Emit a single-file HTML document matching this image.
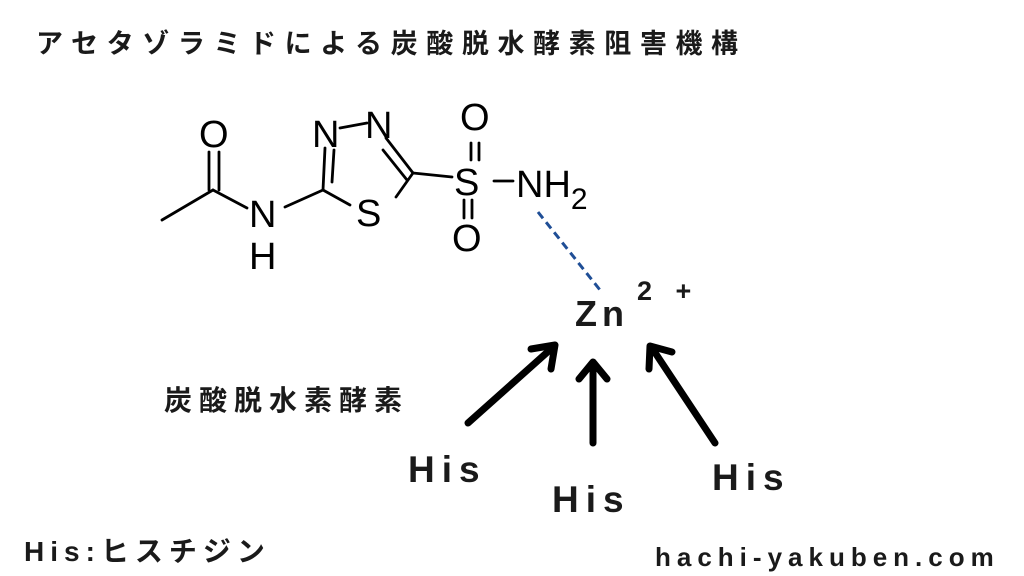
<!DOCTYPE html>
<html><head><meta charset="utf-8"><style>
html,body{margin:0;padding:0;background:#fff;width:1024px;height:576px;overflow:hidden}
svg{display:block}
.jp{font-family:"Liberation Sans","Noto Sans CJK JP",sans-serif;font-weight:bold;fill:#1a1a1a}
.mol{font-family:"Liberation Sans",sans-serif;fill:#000;font-size:38px}
</style></head><body>
<svg width="1024" height="576" viewBox="0 0 1024 576" xmlns="http://www.w3.org/2000/svg">
<text class="jp" x="36" y="53" font-size="27" letter-spacing="8.6">アセタゾラミドによる炭酸脱水酵素阻害機構</text>
<g stroke="#000" stroke-width="2.8" fill="none" stroke-linecap="round">
<line x1="162" y1="220" x2="213" y2="190"/>
<line x1="209" y1="190" x2="209" y2="152"/>
<line x1="219" y1="190" x2="219" y2="152"/>
<line x1="213" y1="190" x2="247" y2="208"/>
<line x1="285" y1="207" x2="323" y2="190"/>
<line x1="323" y1="190" x2="350" y2="205"/>
<line x1="323" y1="190" x2="325" y2="148"/>
<line x1="332" y1="182" x2="334" y2="150"/>
<line x1="340" y1="128" x2="367" y2="123"/>
<line x1="386" y1="138" x2="413" y2="173"/>
<line x1="383" y1="150" x2="407" y2="180"/>
<line x1="413" y1="173" x2="396" y2="197"/>
<line x1="413" y1="173" x2="452" y2="177"/>
<line x1="471" y1="143" x2="471" y2="160"/>
<line x1="479" y1="143" x2="479" y2="160"/>
<line x1="464" y1="200" x2="464" y2="218"/>
<line x1="472" y1="200" x2="472" y2="218"/>
<line x1="494" y1="181" x2="513" y2="181"/>
</g>
<text class="mol" x="199" y="147">O</text>
<text class="mol" x="249" y="227">N</text>
<text class="mol" x="249" y="269">H</text>
<text class="mol" x="312" y="147">N</text>
<text class="mol" x="365" y="138">N</text>
<text class="mol" x="356" y="226">S</text>
<text class="mol" x="460" y="130">O</text>
<text class="mol" x="452" y="251">O</text>
<text class="mol" x="454" y="195">S</text>
<text class="mol" x="516" y="197">NH<tspan font-size="30" dy="12">2</tspan></text>
<line x1="538" y1="212" x2="600" y2="290" stroke="#1f4e96" stroke-width="3" stroke-dasharray="8,5"/>
<text class="jp" x="575" y="326" font-size="36" letter-spacing="5">Zn</text>
<text class="jp" x="637" y="300" font-size="27" letter-spacing="8">2 +</text>
<g stroke="#000" stroke-width="7" fill="none" stroke-linecap="round" stroke-linejoin="round">
<line x1="468" y1="423" x2="552" y2="348"/>
<polyline points="531,349 555,345 551,369"/>
<line x1="593" y1="443" x2="593" y2="363"/>
<polyline points="579,379 593,362 607,379"/>
<line x1="715" y1="443" x2="652" y2="348"/>
<polyline points="649,369 650,346 672,352"/>
</g>
<text class="jp" x="408" y="482" font-size="37" letter-spacing="7">His</text>
<text class="jp" x="552" y="512" font-size="37" letter-spacing="7">His</text>
<text class="jp" x="712" y="490" font-size="37" letter-spacing="7">His</text>
<text class="jp" x="164" y="410" font-size="28" letter-spacing="7">炭酸脱水素酵素</text>
<text class="jp" x="24" y="561" font-size="28" letter-spacing="6">His:ヒスチジン</text>
<text class="jp" x="655" y="566" font-size="26" letter-spacing="6">hachi-yakuben.com</text>
</svg>
</body></html>
